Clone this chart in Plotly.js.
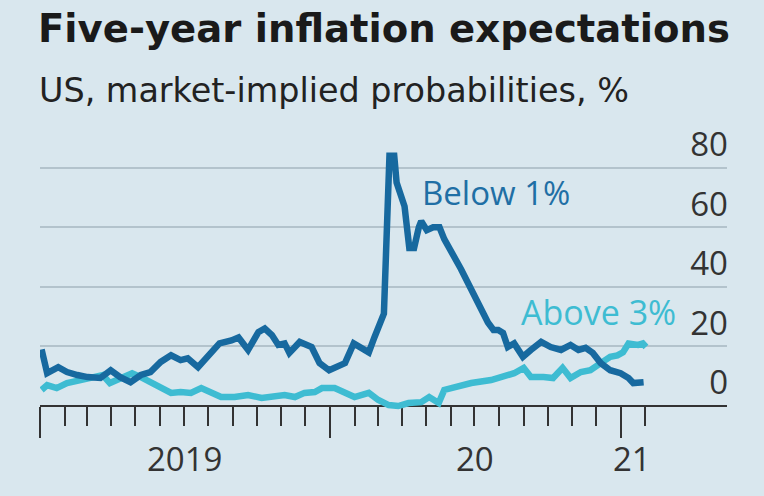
<!DOCTYPE html>
<html>
<head>
<meta charset="utf-8">
<script src="https://cdn.plot.ly/plotly-3.0.1.min.js"></script>
<style>
  html, body { margin: 0; padding: 0; background: #d9e7ee; }
  #chart { width: 764px; height: 496px; }
</style>
</head>
<body>
<div id="chart"></div>
<script>
// Probability that US five-year inflation comes in below 1%
const belowDates = [
  '2019-01-03','2019-01-10','2019-01-24','2019-02-04','2019-02-17','2019-03-02','2019-03-18','2019-03-31',
  '2019-04-12','2019-04-25','2019-05-08','2019-05-20','2019-06-02','2019-06-15','2019-06-27','2019-07-06',
  '2019-07-19','2019-08-01','2019-08-15','2019-08-30','2019-09-08','2019-09-20','2019-10-03','2019-10-11',
  '2019-10-20','2019-10-28','2019-11-05','2019-11-11','2019-11-24','2019-12-09','2019-12-19','2019-12-31',
  '2020-01-12','2020-01-20','2020-01-31','2020-02-10','2020-02-19','2020-02-26','2020-03-09','2020-03-16',
  '2020-03-22','2020-03-25','2020-03-31','2020-04-04','2020-04-10','2020-04-16','2020-04-22','2020-04-25',
  '2020-05-02','2020-05-10','2020-05-18','2020-05-24','2020-06-14','2020-07-09','2020-07-18','2020-07-25',
  '2020-07-31','2020-08-06','2020-08-12','2020-08-20','2020-08-31','2020-09-10','2020-09-23','2020-10-05',
  '2020-10-18','2020-10-30','2020-11-09','2020-11-18','2020-11-27','2020-12-07','2020-12-19','2021-01-01',
  '2021-01-11','2021-01-17','2021-01-26','2021-01-30'
];
const belowValues = [
  19, 11, 13, 11.4, 10.4, 9.7, 9.4, 12,
  9.7, 8, 10.4, 11.4, 14.8, 17, 15.4, 16,
  13, 16.5, 21, 22, 23, 18.8, 24.8, 26,
  23.8, 20.5, 21, 17.8, 21.5, 19.8, 14.4, 12,
  13.8, 14.4, 21, 19.5, 18, 23, 31, 84,
  84, 75, 70, 67, 53, 53, 60, 62,
  59, 60, 60, 56, 46, 32, 28, 25.5,
  25.5, 24.5, 19.8, 21, 16.5, 18.8, 21.5, 19.8,
  18.8, 20.5, 18.8, 19.5, 17.8, 14.4, 12, 11,
  9.4, 7.7, 8, 8
];

// Probability that it comes in above 3%
const aboveDates = [
  '2019-01-03','2019-01-10','2019-01-22','2019-02-04','2019-02-21','2019-03-08','2019-03-21','2019-03-30',
  '2019-04-12','2019-04-27','2019-05-08','2019-05-20','2019-06-02','2019-06-15','2019-06-27','2019-07-10',
  '2019-07-23','2019-08-04','2019-08-17','2019-09-03','2019-09-20','2019-10-07','2019-10-20','2019-11-05',
  '2019-11-18','2019-11-30','2019-12-13','2019-12-22','2020-01-07','2020-01-20','2020-02-01','2020-02-19',
  '2020-03-02','2020-03-15','2020-03-27','2020-04-09','2020-04-25','2020-05-05','2020-05-17','2020-05-24',
  '2020-06-06','2020-06-27','2020-07-22','2020-08-07','2020-08-20','2020-09-01','2020-09-10','2020-09-26',
  '2020-10-08','2020-10-20','2020-10-30','2020-11-12','2020-11-24','2020-12-07','2020-12-19','2020-12-28',
  '2021-01-04','2021-01-11','2021-01-23','2021-01-29','2021-02-02'
];
const aboveValues = [
  5.4, 7, 6, 7.7, 8.7, 9.4, 10.4, 7.7,
  9.4, 11, 9.7, 8, 6, 4.4, 4.7, 4.4,
  6, 4.4, 3, 3, 3.7, 2.7, 3, 3.7,
  3, 4.4, 4.7, 6, 6, 4.7, 3, 4.4,
  2, 0.3, 0, 1, 1.3, 3, 1, 5.4,
  6.4, 7.7, 8.7, 9.7, 11, 12.8, 9.7, 9.7,
  9.4, 12.8, 9.4, 11.4, 12, 14.4, 16.5, 17,
  18, 21, 20.5, 21, 19.8
];

const yTicks = [0, 20, 40, 60, 80];
const yearLabels = ['2019', '20', '21'];
const yearLabelDates = ['2019-07-02', '2020-07-02', '2021-01-16'];
const yearStarts = ['2019-01-01', '2020-01-01', '2021-01-01'];

// month-start ticks between the year ticks, up to February 2021
const monthTicks = [];
for (let y = 2019; y <= 2021; y++) {
  for (let m = 1; m <= 12; m++) {
    if (y === 2021 && m > 2) break;
    if (m === 1) continue;
    monthTicks.push(y + '-' + String(m).padStart(2, '0') + '-01');
  }
}

const BG = '#d9e7ee';
const DARK = '#17699f';
const CYAN = '#3ebcd2';
const FONT = 'Open Sans, sans-serif';
const HEAD_FONT = 'DejaVu Sans, sans-serif';

const traces = [
  {
    x: aboveDates, y: aboveValues, type: 'scatter', mode: 'lines',
    line: { color: CYAN, width: 6.5 }, hoverinfo: 'skip'
  },
  {
    x: belowDates, y: belowValues, type: 'scatter', mode: 'lines',
    line: { color: DARK, width: 6.5 }, hoverinfo: 'skip'
  }
];

// plot area spans y=120..415 px; the baseline (0) sits at y=406
const plotTop = 120, plotBottom = 415;
const baselineFrac = (plotBottom - 406) / (plotBottom - plotTop);

const layout = {
  width: 764, height: 496,
  paper_bgcolor: BG, plot_bgcolor: BG,
  margin: { l: 40, r: 37, t: plotTop, b: 496 - plotBottom },
  showlegend: false,
  font: { family: FONT, color: '#333' },
  title: {
    text: 'Five-year inflation expectations',
    font: { family: HEAD_FONT, size: 38.6, weight: 700, color: '#1a1a1a' },
    xref: 'container', x: 38 / 764, xanchor: 'left',
    yref: 'container', y: 1 - 28 / 496, yanchor: 'middle'
  },
  xaxis: {
    type: 'date',
    range: ['2019-01-01', '2021-05-15'],
    anchor: 'free', position: baselineFrac,
    showgrid: false, zeroline: false,
    showline: true, linecolor: '#333', linewidth: 2,
    tickmode: 'array', tickvals: yearStarts,
    ticks: 'outside', ticklen: 31, tickwidth: 2, tickcolor: '#333',
    showticklabels: false,
    minor: {
      tickmode: 'array', tickvals: monthTicks,
      ticks: 'outside', ticklen: 19, tickwidth: 2, tickcolor: '#333',
      showgrid: false
    },
    layer: 'below traces',
    fixedrange: true
  },
  yaxis: {
    range: [(406 - plotBottom) / 2.98, (406 - plotTop) / 2.98],
    side: 'right',
    tickmode: 'array', tickvals: yTicks,
    ticklabelposition: 'inside top',
    ticklabelstandoff: -4,
    ticks: '',
    showgrid: true, gridcolor: '#b3c3cc', gridwidth: 2,
    zeroline: false, showline: false,
    tickfont: { family: FONT, size: 33, color: '#333' },
    layer: 'below traces',
    fixedrange: true
  },
  annotations: [
    {
      text: 'US, market-implied probabilities, %',
      xref: 'paper', yref: 'paper', x: 0, xanchor: 'left', xshift: -3,
      y: (plotBottom - 90) / (plotBottom - plotTop), yanchor: 'middle',
      showarrow: false,
      font: { family: HEAD_FONT, size: 33.4, color: '#222' }
    },
    {
      text: 'Below 1%', xref: 'x', yref: 'y', x: '2020-04-23', y: 71.5,
      xanchor: 'left', yanchor: 'middle', showarrow: false,
      font: { family: FONT, size: 33, color: '#1f6fa5' }
    },
    {
      text: 'Above 3%', xref: 'x', yref: 'y', x: '2020-08-26', y: 31.5,
      xanchor: 'left', yanchor: 'middle', showarrow: false,
      font: { family: FONT, size: 34, color: CYAN }
    }
  ].concat(yearLabels.map((t, i) => ({
    text: t, xref: 'x', yref: 'paper', x: yearLabelDates[i],
    y: (plotBottom - 458) / (plotBottom - plotTop), yanchor: 'middle', xanchor: 'center',
    showarrow: false, font: { family: FONT, size: 33, color: '#333' }
  })))
};

Plotly.newPlot('chart', traces, layout, { staticPlot: true, displayModeBar: false });
</script>
</body>
</html>
